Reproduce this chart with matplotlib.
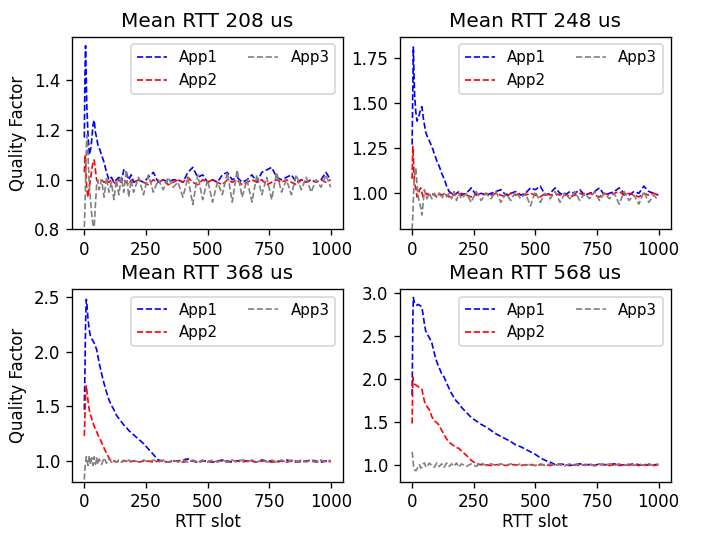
import matplotlib
matplotlib.use('Agg')
import matplotlib.pyplot as plt

slots = [0, 3, 5, 8, 10, 15, 20, 25, 30, 35, 40, 45, 50, 55, 60,
         70, 80, 90, 100, 110, 120, 130, 140, 150, 160, 170, 180, 190, 200,
         220, 240, 260, 280, 300, 320, 340, 360, 380, 400, 420, 440, 460, 480,
         500, 520, 540, 560, 580, 600, 620, 640, 660, 680, 700, 720, 740, 760,
         780, 800, 820, 840, 860, 880, 900, 920, 940, 960, 980, 999]

titles = ['Mean RTT 208 us', 'Mean RTT 248 us', 'Mean RTT 368 us', 'Mean RTT 568 us']
apps = ['App1', 'App2', 'App3']
colors = ['blue', 'red', 'gray']
ylims = [(0.8, 1.576), (0.80, 1.867), (0.81, 2.573), (0.80, 3.047)]
yticks = [[0.8, 1.0, 1.2, 1.4],
          [1.00, 1.25, 1.50, 1.75],
          [1.0, 1.5, 2.0, 2.5],
          [1.0, 1.5, 2.0, 2.5, 3.0]]
xticks = [0, 250, 500, 750, 1000]

# --- Mean RTT 208 us
app1_208 = [1.17, 1.45, 1.54, 1.40, 1.30, 1.18, 1.10, 1.12, 1.16, 1.22, 1.24, 1.19, 1.17, 1.14, 1.13,
            1.10, 1.07, 1.03, 1.00, 1.01, 0.99, 1.00, 1.01, 0.99, 1.04, 1.03, 1.00, 1.02, 0.99,
            1.00, 0.99, 1.01, 1.03, 0.99, 1.00, 0.99, 1.00, 1.00, 0.99, 1.03, 1.05, 1.01, 1.02,
            0.99, 1.00, 0.99, 1.02, 1.03, 1.00, 1.01, 0.99, 1.00, 1.02, 0.99, 1.03, 1.04, 1.05,
            1.01, 1.00, 1.01, 1.02, 0.99, 1.00, 0.99, 1.00, 0.99, 1.00, 1.03, 1.00]
app2_208 = [1.03, 1.10, 1.08, 1.00, 0.96, 0.93, 0.97, 1.00, 1.04, 1.07, 1.08, 1.04, 1.00, 0.99, 0.99,
            1.00, 0.99, 1.00, 0.99, 1.00, 0.99, 0.98, 1.00, 0.99, 1.00, 0.99, 0.98, 1.00, 0.99,
            1.00, 0.99, 0.98, 1.00, 0.99, 1.00, 0.98, 0.99, 1.00, 0.99, 1.01, 0.99, 0.98, 1.00,
            0.99, 1.00, 0.99, 0.98, 1.00, 0.99, 1.00, 0.98, 0.99, 1.00, 0.99, 1.00, 0.98, 0.99,
            1.00, 0.99, 1.00, 0.99, 0.98, 1.00, 0.99, 1.00, 0.99, 1.00, 0.99, 1.00]
app3_208 = [0.81, 0.90, 1.00, 1.12, 1.18, 1.10, 0.98, 0.92, 0.86, 0.82, 0.81, 0.90, 0.98, 1.00, 0.96,
            1.00, 0.93, 1.01, 0.95, 0.99, 0.92, 1.00, 0.94, 1.01, 0.95, 1.04, 0.93, 1.00, 0.95,
            1.01, 0.94, 1.02, 0.95, 1.00, 0.96, 1.01, 0.97, 0.99, 0.93, 1.01, 0.90, 1.02, 0.92,
            1.00, 0.91, 0.99, 0.94, 1.03, 0.91, 1.04, 0.93, 1.00, 0.91, 1.02, 0.94, 1.01, 0.92,
            1.03, 0.95, 1.00, 0.94, 1.02, 0.96, 1.01, 0.95, 1.00, 0.97, 1.02, 0.97]

# --- Mean RTT 248 us
app1_248 = [1.27, 1.60, 1.81, 1.65, 1.55, 1.45, 1.40, 1.42, 1.44, 1.47, 1.48, 1.42, 1.38, 1.34, 1.32,
            1.29, 1.26, 1.22, 1.18, 1.15, 1.11, 1.08, 1.04, 1.01, 1.00, 0.99, 1.00, 1.01, 0.99,
            1.00, 1.03, 0.99, 1.00, 0.99, 1.00, 1.01, 1.02, 0.99, 1.00, 1.01, 0.99, 1.00, 1.03,
            1.02, 1.04, 0.99, 1.00, 1.03, 1.00, 0.99, 1.01, 1.00, 1.02, 0.99, 1.00, 1.01, 1.03,
            0.99, 1.00, 1.01, 1.03, 1.00, 0.99, 1.01, 1.00, 1.04, 1.01, 1.00, 0.99]
app2_248 = [1.08, 1.26, 1.20, 1.10, 1.05, 1.03, 0.98, 0.99, 1.02, 1.03, 1.00, 0.98, 0.99, 0.99, 1.00,
            0.99, 1.00, 0.99, 0.98, 1.00, 0.99, 1.00, 0.99, 0.98, 1.00, 0.99, 1.00, 0.99, 1.00,
            0.99, 0.98, 1.00, 0.99, 1.00, 0.99, 1.00, 0.99, 0.98, 1.00, 0.99, 1.00, 0.99, 1.00,
            0.99, 0.98, 1.00, 0.99, 1.00, 0.99, 1.00, 0.98, 0.99, 1.00, 0.99, 1.00, 0.99, 0.98,
            1.00, 0.99, 1.00, 1.01, 0.99, 1.00, 0.99, 0.98, 1.00, 0.99, 1.00, 0.99]
app3_248 = [0.80, 0.88, 0.96, 1.06, 1.10, 1.14, 1.05, 0.98, 0.95, 0.92, 0.88, 0.95, 1.02, 0.99, 0.97,
            1.00, 0.97, 1.00, 0.98, 1.00, 0.97, 1.00, 0.98, 1.00, 0.97, 1.01, 0.96, 1.00, 0.97,
            1.00, 0.95, 1.01, 0.96, 1.00, 0.97, 1.01, 0.95, 1.00, 0.96, 1.01, 0.97, 1.00, 0.93,
            1.01, 0.95, 1.00, 0.97, 1.01, 0.95, 1.00, 0.97, 1.01, 0.96, 1.00, 0.97, 1.01, 0.96,
            1.00, 0.97, 1.00, 0.94, 1.01, 0.96, 0.99, 0.94, 1.01, 0.95, 0.99, 0.96]

# --- Mean RTT 368 us
app1_368 = [1.47, 1.90, 2.25, 2.48, 2.45, 2.30, 2.20, 2.14, 2.12, 2.10, 2.08, 2.05, 2.02, 1.96, 1.90,
            1.80, 1.71, 1.63, 1.56, 1.51, 1.47, 1.42, 1.39, 1.36, 1.33, 1.31, 1.28, 1.26, 1.24,
            1.20, 1.16, 1.11, 1.06, 1.01, 1.00, 0.99, 1.00, 1.00, 1.01, 1.02, 1.00, 0.99, 1.00,
            1.00, 0.99, 1.00, 1.01, 1.00, 0.99, 1.00, 1.01, 1.00, 1.00, 0.99, 1.01, 1.00, 1.00,
            0.99, 1.00, 1.01, 1.00, 0.99, 1.00, 1.00, 1.01, 1.00, 0.99, 1.00, 1.00]
app2_368 = [1.23, 1.45, 1.60, 1.69, 1.65, 1.55, 1.47, 1.42, 1.39, 1.35, 1.32, 1.29, 1.27, 1.24, 1.22,
            1.17, 1.12, 1.07, 1.03, 1.00, 1.00, 0.99, 1.00, 0.99, 1.00, 1.00, 0.99, 1.00, 1.00,
            0.99, 1.00, 1.00, 0.99, 1.00, 1.00, 0.99, 1.00, 1.00, 0.99, 1.00, 1.00, 0.99, 1.00,
            1.00, 0.99, 1.00, 1.00, 0.99, 1.00, 1.00, 0.99, 1.00, 1.00, 0.99, 1.00, 1.00, 0.99,
            1.00, 1.00, 0.99, 1.00, 1.00, 0.99, 1.00, 1.00, 0.99, 1.00, 1.00, 0.99]
app3_368 = [0.83, 0.95, 0.98, 1.04, 1.02, 0.96, 1.05, 0.97, 1.03, 0.96, 1.04, 0.97, 1.03, 0.97, 1.02,
            0.97, 1.03, 0.98, 1.02, 0.99, 1.01, 0.99, 1.01, 0.99, 1.01, 0.99, 1.01, 0.99, 1.01,
            0.99, 1.01, 0.99, 1.01, 0.99, 1.01, 0.99, 1.01, 0.99, 1.01, 0.99, 1.01, 0.99, 1.01,
            0.99, 1.01, 0.99, 1.01, 0.99, 1.01, 0.99, 1.01, 0.99, 1.01, 0.99, 1.01, 0.99, 1.01,
            0.99, 1.01, 0.99, 1.01, 0.99, 1.01, 0.99, 1.01, 0.99, 1.01, 0.99, 1.01]

# --- Mean RTT 568 us
app1_568 = [1.81, 2.70, 2.95, 2.90, 2.88, 2.87, 2.86, 2.87, 2.86, 2.85, 2.83, 2.74, 2.64, 2.56, 2.53,
            2.48, 2.42, 2.30, 2.20, 2.13, 2.06, 2.02, 1.95, 1.89, 1.83, 1.78, 1.74, 1.71, 1.67,
            1.61, 1.55, 1.51, 1.47, 1.44, 1.40, 1.36, 1.33, 1.30, 1.27, 1.23, 1.21, 1.18, 1.15,
            1.12, 1.08, 1.05, 1.03, 1.00, 1.01, 1.00, 0.99, 1.00, 1.01, 1.00, 1.00, 0.99, 1.01,
            1.00, 1.00, 1.01, 0.99, 1.00, 1.00, 1.01, 1.00, 0.99, 1.00, 1.00, 1.00]
app2_568 = [1.48, 2.02, 1.98, 1.95, 1.94, 1.93, 1.92, 1.91, 1.90, 1.89, 1.88, 1.80, 1.74, 1.70, 1.68,
            1.64, 1.56, 1.51, 1.49, 1.46, 1.40, 1.35, 1.30, 1.26, 1.24, 1.22, 1.20, 1.19, 1.16,
            1.11, 1.05, 1.01, 1.00, 1.00, 0.99, 1.00, 1.00, 0.99, 1.00, 1.00, 0.99, 1.00, 1.00,
            0.99, 1.00, 1.00, 0.99, 1.00, 1.00, 0.99, 1.00, 1.00, 0.99, 1.00, 1.00, 0.99, 1.00,
            1.00, 0.99, 1.00, 1.00, 0.99, 1.00, 1.00, 0.99, 1.00, 1.00, 0.99, 1.00]
app3_568 = [1.15, 1.08, 1.00, 0.96, 0.94, 0.93, 0.95, 0.99, 1.00, 0.96, 0.97, 1.01, 1.02, 0.98, 0.97,
            1.02, 0.99, 0.97, 1.02, 0.98, 1.01, 0.97, 1.02, 0.98, 1.01, 0.98, 1.02, 0.97, 1.01,
            0.98, 1.01, 0.98, 1.02, 0.99, 1.01, 0.99, 1.01, 0.99, 1.01, 0.99, 1.01, 0.99, 1.01,
            0.99, 1.01, 0.99, 1.01, 0.99, 1.01, 0.99, 1.01, 0.99, 1.01, 0.99, 1.01, 0.99, 1.01,
            0.99, 1.01, 0.99, 1.01, 0.99, 1.01, 0.99, 1.01, 0.99, 1.01, 0.99, 1.01]

panels = [
    [app1_208, app2_208, app3_208],
    [app1_248, app2_248, app3_248],
    [app1_368, app2_368, app3_368],
    [app1_568, app2_568, app3_568],
]

fig, axes = plt.subplots(2, 2, figsize=(706 / 120, 533 / 120), dpi=120)
fig.subplots_adjust(left=0.102, right=0.950, top=0.931, bottom=0.096,
                    wspace=0.21, hspace=0.31)

for i, ax in enumerate(axes.flat):
    for series, name, c in zip(panels[i], apps, colors):
        ax.plot(slots, series, linestyle='--', color=c, linewidth=1, label=name)
    ax.set_title(titles[i], fontsize=12)
    ax.set_xticks(xticks)
    ax.set_yticks(yticks[i])
    ax.set_ylim(*ylims[i])
    ax.legend(loc='upper right', ncol=2, fontsize=9)
    if i % 2 == 0:
        ax.set_ylabel('Quality Factor')
    if i >= 2:
        ax.set_xlabel('RTT slot', labelpad=1)

plt.savefig('out.png')
